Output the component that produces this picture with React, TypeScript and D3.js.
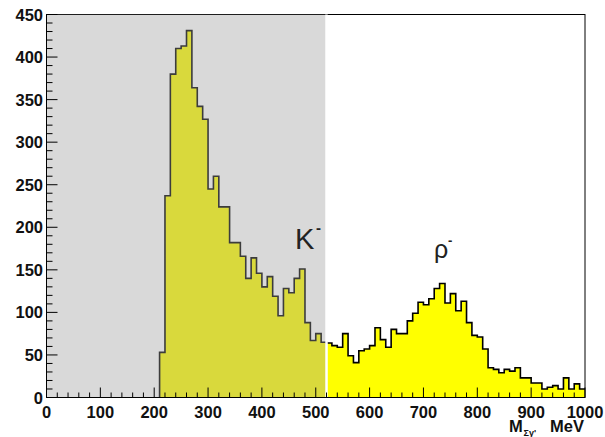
import React from 'react';
import * as d3 from 'd3';

// histogram: 10 MeV bins, first filled bin starts at 210 MeV
const binWidth = 10;
const firstBin = 210;
const counts = [
  53, 237, 380, 410, 413, 431, 364, 342, 327, 245,
  260, 224, 224, 182, 182, 166, 140, 164, 146, 130,
  142, 119, 96, 128, 123, 140, 151, 88, 67, 75,
  65, 64, 61, 59, 75, 49, 41, 55, 57, 61,
  82, 68, 59, 80, 75, 75, 90, 99, 112, 109,
  116, 128, 134, 111, 122, 102, 113, 88, 73, 71,
  57, 35, 33, 29, 33, 31, 35, 23, 23, 17,
  17, 10, 12, 14, 10, 23, 10, 16, 10,
];
const xTicks = [0, 100, 200, 300, 400, 500, 600, 700, 800, 900, 1000];
const yTicks = [0, 50, 100, 150, 200, 250, 300, 350, 400, 450];
const shadedUpTo = 520;

const W = 605;
const H = 437;
const FONT = '"Liberation Sans", Arial, Helvetica, sans-serif';

export default function App() {
  const x = d3.scaleLinear([0, 1000], [46.5, 585]);
  const y = d3.scaleLinear([0, 450], [397.5, 14.5]);

  const bins: [number, number][] = counts.map((c, i) => [firstBin + i * binWidth, c]);
  const last = bins[bins.length - 1];
  const pts: [number, number][] = [...bins, [last[0] + binWidth, last[1]]];

  const area = d3.area<[number, number]>()
    .x(d => x(d[0]))
    .y0(y(0))
    .y1(d => y(d[1]))
    .curve(d3.curveStepAfter);

  const line = d3.line<[number, number]>()
    .x(d => x(d[0]))
    .y(d => y(d[1]))
    .curve(d3.curveStepAfter);

  const outline: [number, number][] = [[firstBin, 0], ...pts];

  const xMinor = d3.range(0, 1001, 20).filter(v => v % 100 !== 0);
  const yMinor = d3.range(0, 451, 10).filter(v => v % 50 !== 0);

  return (
    <svg width={W} height={H} viewBox={`0 0 ${W} ${H}`}
      style={{ position: 'absolute', left: 0, top: 0, background: '#fff' }}>
      {/* histogram */}
      <path d={area(pts) ?? ''} fill="#ffff00" />
      <path d={line(outline) ?? ''} fill="none" stroke="#000" strokeWidth={1.6} />

      {/* frame */}
      <rect x={x(0)} y={y(450)} width={x(1000) - x(0)} height={y(0) - y(450)}
        fill="none" stroke="#000" strokeWidth={1} />

      {/* grey shaded region */}
      <rect x={x(0)} y={y(450)} width={x(shadedUpTo) - x(0)} height={y(0) - y(450)}
        fill="rgb(156,156,156)" fillOpacity={0.384} />
      <line x1={x(shadedUpTo)} x2={x(shadedUpTo)} y1={y(450)} y2={y(0)}
        stroke="#fff" strokeWidth={2.5} />

      {/* axes lines */}
      <line x1={x(0)} x2={x(1000)} y1={y(0)} y2={y(0)} stroke="#000" strokeWidth={1.2} />
      <line x1={x(0)} x2={x(0)} y1={y(0)} y2={y(450)} stroke="#000" strokeWidth={1} />

      {/* x ticks */}
      {xTicks.map(v => (
        <line key={'xt' + v} x1={x(v)} x2={x(v)} y1={y(0)} y2={y(0) - 10} stroke="#000" strokeWidth={1} />
      ))}
      {xMinor.map(v => (
        <line key={'xm' + v} x1={x(v)} x2={x(v)} y1={y(0)} y2={y(0) - 5} stroke="#000" strokeWidth={1} />
      ))}
      {/* y ticks */}
      {yTicks.map(v => (
        <line key={'yt' + v} x1={x(0)} x2={x(0) + 11} y1={y(v)} y2={y(v)} stroke="#000" strokeWidth={1} />
      ))}
      {yMinor.map(v => (
        <line key={'ym' + v} x1={x(0)} x2={x(0) + 6} y1={y(v)} y2={y(v)} stroke="#000" strokeWidth={1} />
      ))}

      {/* tick labels */}
      <g fontFamily={FONT} fontWeight="bold" fontSize={16.5} fill="#111">
        {yTicks.map(v => (
          <text key={'yl' + v} x={43} y={y(v) + 6} textAnchor="end">{v}</text>
        ))}
        {xTicks.map(v => (
          <text key={'xl' + v} x={x(v)} y={417.5} textAnchor="middle">{v}</text>
        ))}
      </g>

      {/* axis title */}
      <g fontFamily={FONT} fontWeight="bold" fill="#111">
        <text x={509} y={432} fontSize={16.5}>M</text>
        <text x={523.5} y={436} fontSize={9}>{'Σγ\''}</text>
        <text x={584} y={432} fontSize={16.5} textAnchor="end">MeV</text>
      </g>

      {/* peak labels */}
      <g fontFamily={FONT} fill="#222">
        <text x={295} y={249} fontSize={29}>K</text>
        <text x={316} y={233} fontSize={15} fontWeight="bold">-</text>
        <text x={434} y={258} fontSize={25}>ρ</text>
        <text x={448} y={245} fontSize={13} fontWeight="bold">-</text>
      </g>
    </svg>
  );
}
